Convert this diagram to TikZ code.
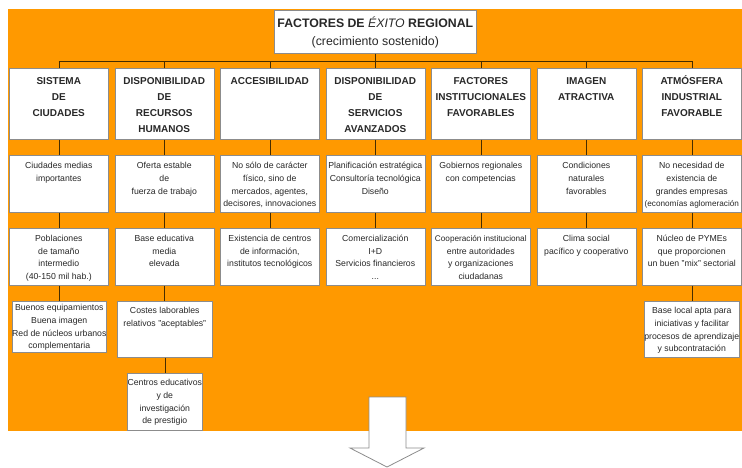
\documentclass[tikz,border=0pt]{standalone}
\usepackage{fontspec}
\setmainfont{Liberation Sans}
\definecolor{bgorange}{RGB}{255,153,0}
\definecolor{boxgray}{RGB}{140,140,140}
\definecolor{linec}{RGB}{70,45,0}
\definecolor{txt}{RGB}{40,40,40}
\tikzset{
  cellbox/.style={draw=boxgray, fill=white, line width=0.6pt, inner sep=0pt, anchor=north west, text=txt},
  conn/.style={draw=linec, line width=0.6pt},
  bigarrow/.style={draw=boxgray, fill=white, line width=0.8pt, line join=miter}
}
\newcommand\headf{\fontsize{10}{16}\bfseries\selectfont}
\newcommand\bodyf{\fontsize{8.7}{12.7}\selectfont}
\newcommand\tightline[1]{\makebox[0pt]{\fontsize{8.2}{12.7}\selectfont #1}}
% #1 name, #2 x, #3 y, #4 w, #5 h, #6 first baseline, #7 font, #8 text
\newcommand\cell[8]{\node[cellbox] (#1) at (#2,#3) {\parbox[t][#5pt][t]{#4pt}{\centering#7\rule{0pt}{#6pt}#8}};}
\begin{document}
\begin{tikzpicture}[x=1pt,y=-1pt]
\useasboundingbox (0,0) rectangle (742,467);
\fill[white] (0,0) rectangle (742,467);
\fill[bgorange] (8,9) rectangle (742,431);

% title
\node[cellbox] (title) at (274,10) {\parbox[t][43pt][t]{202pt}{\centering\fontsize{12.3}{18.5}\selectfont\rule{0pt}{17pt}\textbf{FACTORES DE} \textit{ÉXITO} \textbf{REGIONAL}\\(crecimiento sostenido)}};

% row 1 headers
\cell{h1}{9}{68}{99}{71}{16}{\headf}{SISTEMA\\DE\\CIUDADES}
\cell{h2}{114.5}{68}{99}{71}{16}{\headf}{DISPONIBILIDAD\\DE\\RECURSOS\\HUMANOS}
\cell{h3}{220}{68}{99}{71}{16}{\headf}{ACCESIBILIDAD}
\cell{h4}{325.5}{68}{99}{71}{16}{\headf}{DISPONIBILIDAD\\DE\\SERVICIOS\\AVANZADOS}
\cell{h5}{431}{68}{99}{71}{16}{\headf}{FACTORES\\INSTITUCIONALES\\FAVORABLES}
\cell{h6}{536.5}{68}{99}{71}{16}{\headf}{IMAGEN\\ATRACTIVA}
\cell{h7}{642}{68}{99}{71}{16}{\headf}{ATMÓSFERA\\INDUSTRIAL\\FAVORABLE}

% row 2
\cell{a1}{9}{155}{99}{57}{13.5}{\bodyf}{Ciudades medias\\importantes}
\cell{a2}{114.5}{155}{99}{57}{13.5}{\bodyf}{Oferta estable\\de\\fuerza de trabajo}
\cell{a3}{220}{155}{99}{57}{13.5}{\bodyf}{No sólo de carácter\\físico, sino de\\mercados, agentes,\\decisores, innovaciones}
\cell{a4}{325.5}{155}{99}{57}{13.5}{\bodyf}{Planificación estratégica\\Consultoría tecnológica\\Diseño}
\cell{a5}{431}{155}{99}{57}{13.5}{\bodyf}{Gobiernos regionales\\con competencias}
\cell{a6}{536.5}{155}{99}{57}{13.5}{\bodyf}{Condiciones\\naturales\\favorables}
\cell{a7}{642}{155}{99}{57}{13.5}{\bodyf}{No necesidad de\\existencia de\\grandes empresas\\\tightline{(economías aglomeración}}

% row 3
\cell{b1}{9}{228}{99}{57}{13}{\bodyf}{Poblaciones\\de tamaño\\intermedio\\(40-150 mil hab.)}
\cell{b2}{114.5}{228}{99}{57}{13}{\bodyf}{Base educativa\\media\\elevada}
\cell{b3}{220}{228}{99}{57}{13}{\bodyf}{Existencia de centros\\de información,\\institutos tecnológicos}
\cell{b4}{325.5}{228}{99}{57}{13}{\bodyf}{Comercialización\\I+D\\Servicios financieros\\...}
\cell{b5}{431}{228}{99}{57}{13}{\bodyf}{\tightline{Cooperación institucional}\\entre autoridades\\y organizaciones\\ciudadanas}
\cell{b6}{536.5}{228}{99}{57}{13}{\bodyf}{Clima social\\pacífico y cooperativo}
\cell{b7}{642}{228}{99}{57}{13}{\bodyf}{Núcleo de PYMEs\\que proporcionen\\un buen "mix" sectorial}

% row 4
\cell{c1}{12}{301}{94}{51}{9.5}{\bodyf}{Buenos equipamientos\\Buena imagen\\\makebox[0pt]{Red de núcleos urbanos}\\complementaria}
\cell{c2}{117}{301}{95}{56}{12.5}{\bodyf}{Costes laborables\\relativos "aceptables"}
\cell{c7}{644}{301}{95}{56}{12.5}{\bodyf}{Base local apta para\\iniciativas y facilitar\\\makebox[0pt]{procesos de aprendizaje}\\y subcontratación}

% row 5
\cell{d2}{127}{373}{75}{57}{12.5}{\bodyf}{\makebox[0pt]{Centros educativos}\\y de\\investigación\\de prestigio}

% connectors
\coordinate (busL) at (58.5,61);
\coordinate (busR) at (691.5,61);
\draw[conn] (busL) -- (busR);
\draw[conn] (title.south) -- (title.south |- busL);
\foreach \h in {h1,h2,h3,h4,h5,h6,h7}{\draw[conn] (\h.north) -- (\h.north |- busL);}
\foreach \i in {1,...,7}{
  \draw[conn] (h\i.south) -- (h\i.south |- a\i.north);
  \draw[conn] (a\i.south) -- (a\i.south |- b\i.north);
}
\draw[conn] (b1.south) -- (b1.south |- c1.north);
\draw[conn] (b2.south) -- (b2.south |- c2.north);
\draw[conn] (b7.south) -- (b7.south |- c7.north);
\draw[conn] (c2.south) -- (c2.south |- d2.north);

% big arrow
\draw[bigarrow] (369,397) -- (406,397) -- (406,448) -- (424,448) -- (387,467) -- (350,448) -- (369,448) -- cycle;
\end{tikzpicture}
\end{document}
